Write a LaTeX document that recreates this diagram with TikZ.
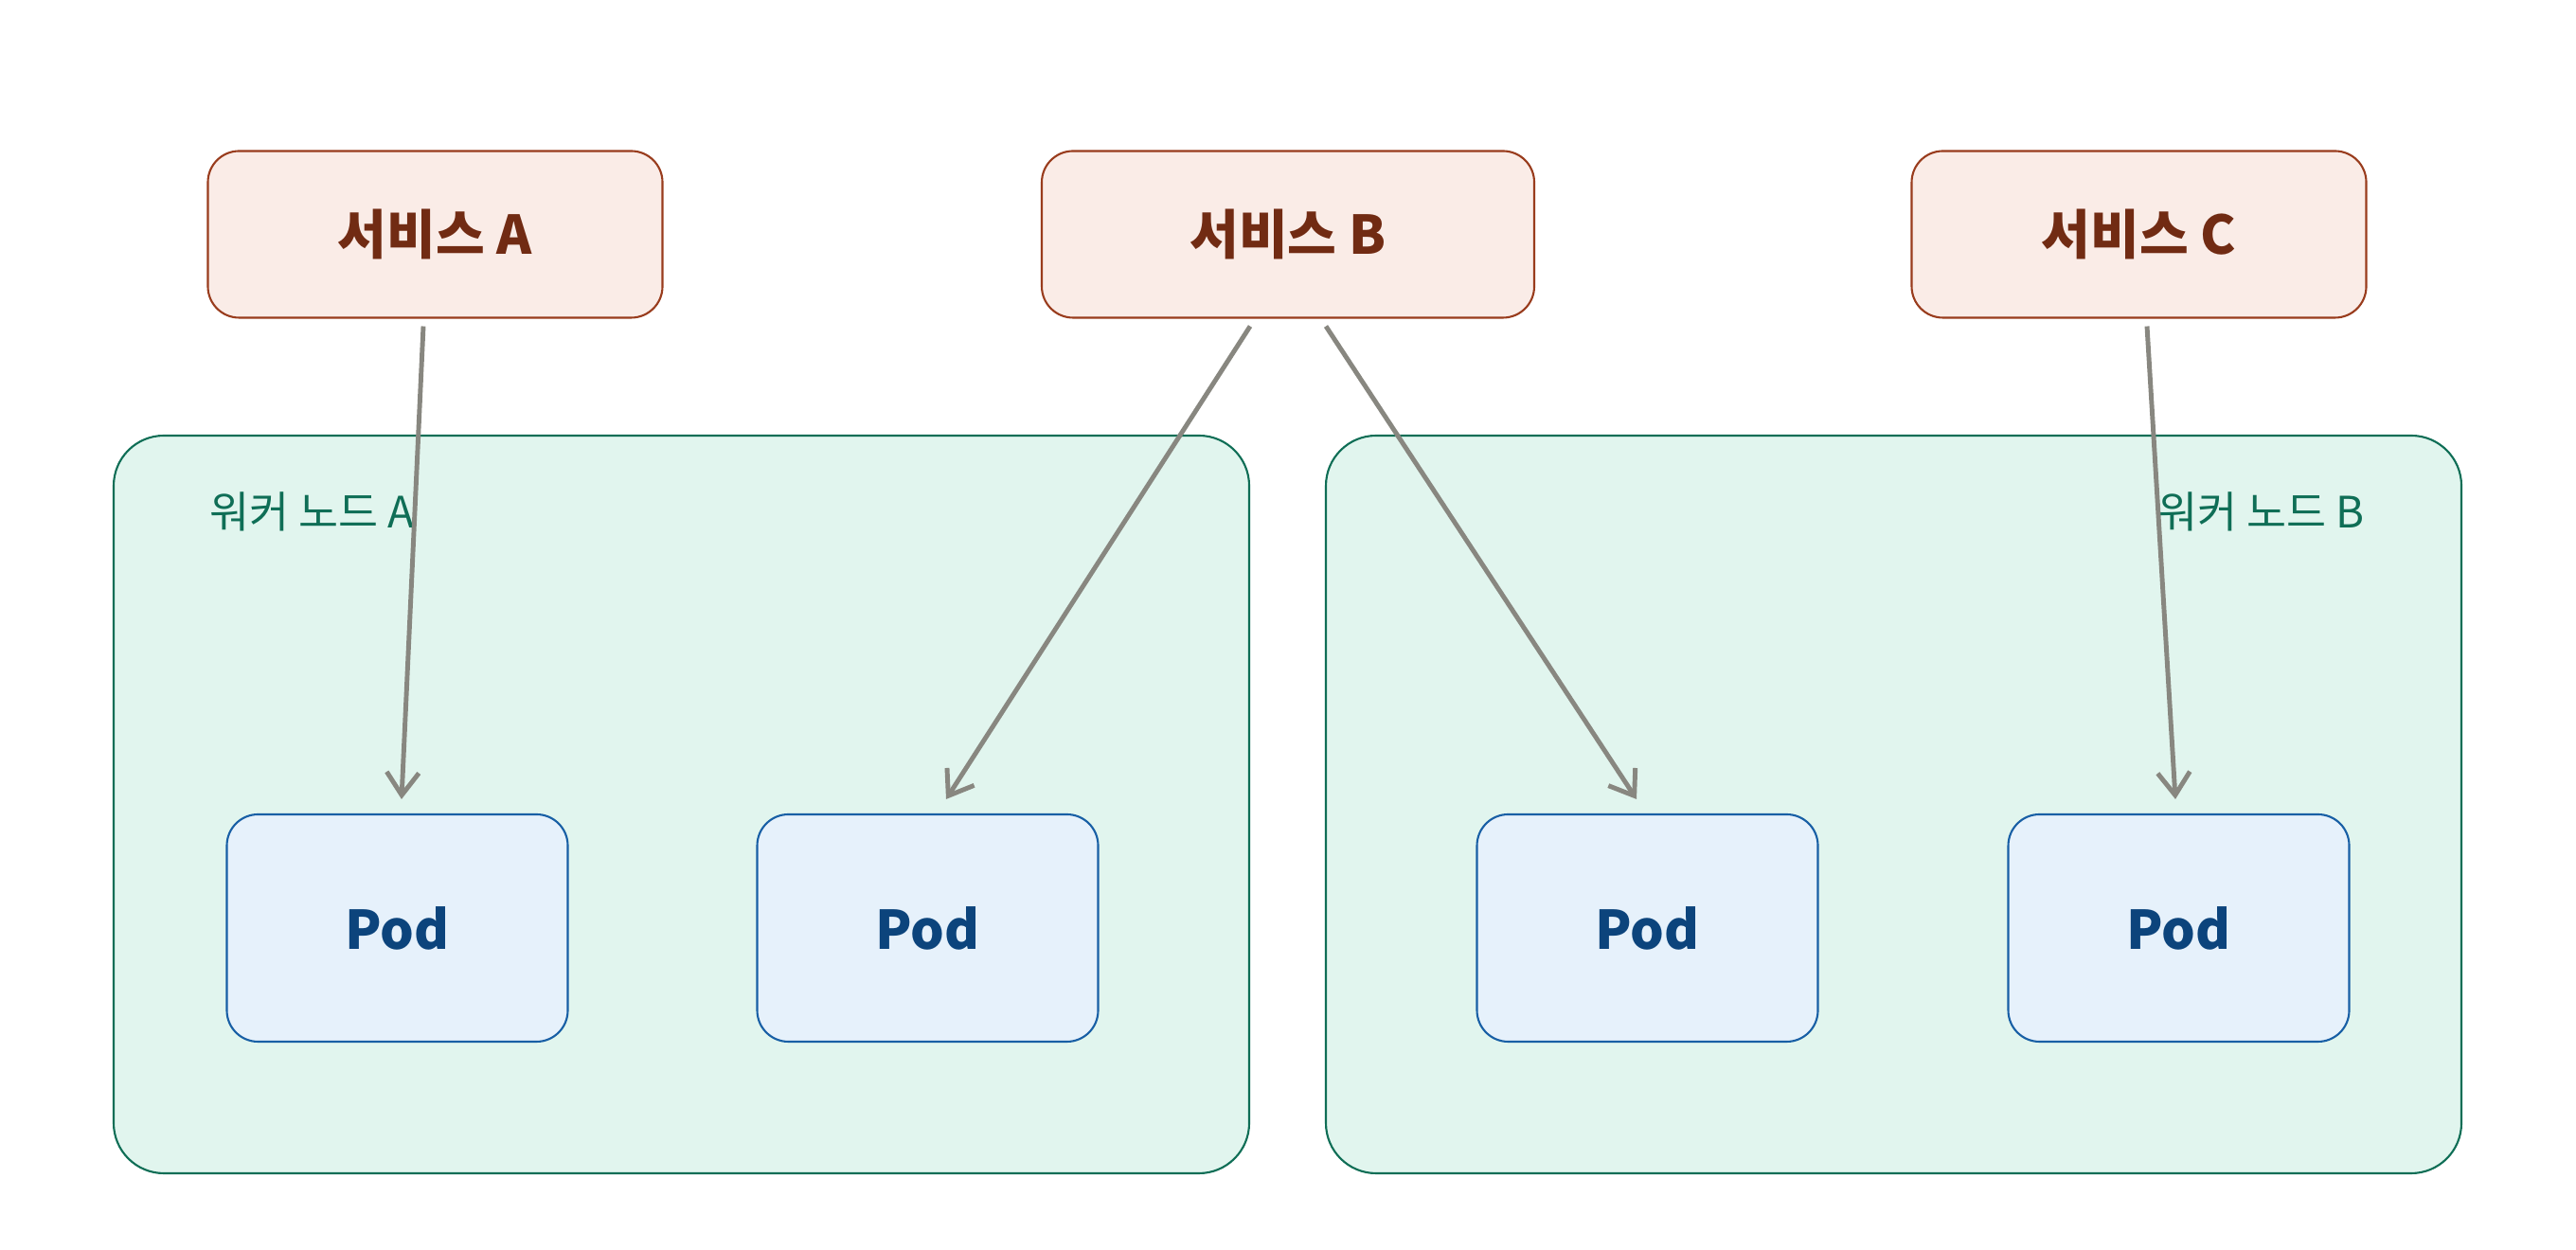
\documentclass[tikz,border=0pt]{standalone}
\usepackage{fontspec}
\setmainfont{Noto Sans CJK KR}
\usetikzlibrary{calc,arrows.meta}

\definecolor{svcfill}{HTML}{FAECE7}
\definecolor{svcline}{HTML}{993C1D}
\definecolor{svctext}{HTML}{712B13}
\definecolor{wkfill}{HTML}{E1F5EE}
\definecolor{wkline}{HTML}{0F6E56}
\definecolor{podfill}{HTML}{E6F1FB}
\definecolor{podline}{HTML}{185FA5}
\definecolor{podtext}{HTML}{0C447C}
\definecolor{arrgray}{HTML}{888780}

\begin{document}
\begin{tikzpicture}[line width=0.6pt,
	svc/.style={draw=svcline, fill=svcfill, rounded corners=0.33cm, minimum height=1.76cm, text=svctext, font=\fontsize{16}{19}\selectfont\bfseries},
	worker/.style={draw=wkline, fill=wkfill, rounded corners=0.53cm, minimum width=11.99cm, minimum height=7.79cm},
	wklabel/.style={text=wkline, inner sep=0pt, font=\fontsize{13}{16}\selectfont},
	pod/.style={draw=podline, fill=podfill, rounded corners=0.33cm, minimum width=3.6cm, minimum height=2.4cm, text=podtext, font=\fontsize{16}{19}\selectfont\bfseries},
	link/.style={draw=arrgray, line width=1.4pt, -{Straight Barb[length=2.4mm,width=3.4mm]}}]
\useasboundingbox (0,0) rectangle (27.2,13.2);

% worker nodes
\node[worker] (wkA) at (7.195,4.705) {};
\node[worker] (wkB) at (19.995,4.705) {};
\node[wklabel, anchor=base west] (lblA) at (2.2,7.62) {워커 노드 A};
\node[wklabel, anchor=base east] (lblB) at (24.98,7.62) {워커 노드 B};

% services
\node[svc, minimum width=4.8cm] (svcA) at (4.595,10.725) {서비스 A};
\node[svc, minimum width=5.2cm] (svcB) at (13.6,10.725) {서비스 B};
\node[svc, minimum width=4.8cm] (svcC) at (22.585,10.725) {서비스 C};

% pods
\foreach \name/\x in {podA/4.195, podB/9.795, podC/17.395, podD/23.005}{
	\node[pod] (\name) at (\x,3.4) {Pod};
}

\draw[link] ([xshift=-0.125cm,yshift=-0.08cm]svcA.south)--([xshift=0.045cm,yshift=0.15cm]podA.north);
\draw[link] ([xshift=-0.4cm,yshift=-0.08cm]svcB.south)--([xshift=0.195cm,yshift=0.15cm]podB.north);
\draw[link] ([xshift=0.4cm,yshift=-0.08cm]svcB.south)--([xshift=-0.115cm,yshift=0.15cm]podC.north);
\draw[link] ([xshift=0.085cm,yshift=-0.08cm]svcC.south)--([xshift=-0.035cm,yshift=0.15cm]podD.north);

\end{tikzpicture}
\end{document}
